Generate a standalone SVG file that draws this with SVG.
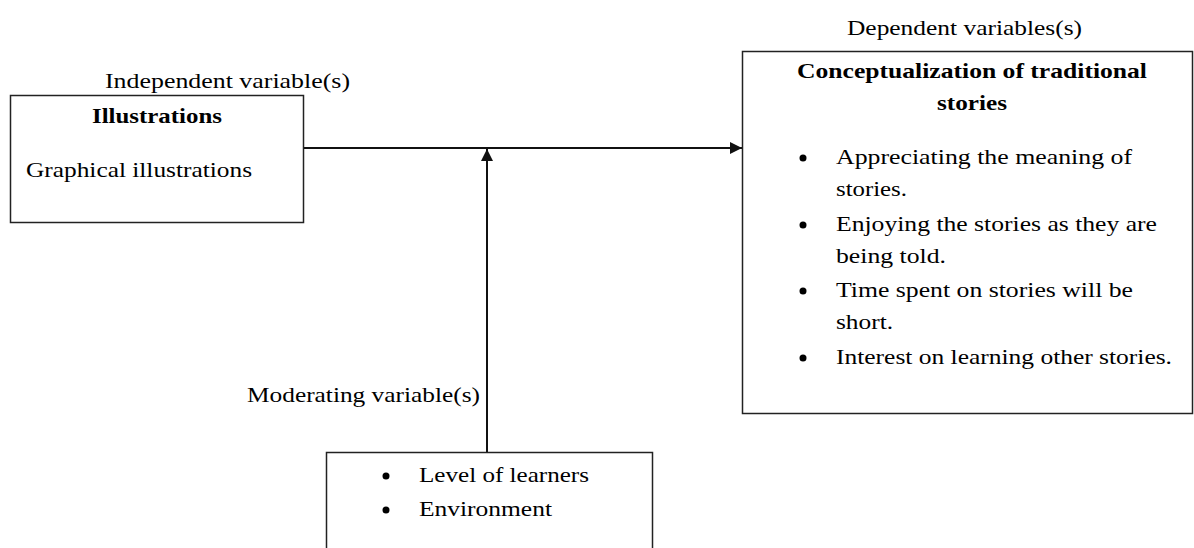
<svg xmlns="http://www.w3.org/2000/svg" width="1194" height="548" viewBox="0 0 1194 548">
<style>
text{font-family:"Liberation Serif","Times New Roman",serif;font-size:22px;fill:#000}
.b{font-weight:bold}
.box{fill:#fff;stroke:#222;stroke-width:1.5}
.ln{stroke:#111;stroke-width:2;fill:none}
</style>
<defs>
<marker id="ah2" viewBox="0 0 10 10" refX="10" refY="5" markerWidth="12" markerHeight="12" orient="auto" markerUnits="userSpaceOnUse">
<path d="M0,0 L10,5 L0,10 z" fill="#111"/>
</marker>
</defs>
<rect width="1194" height="548" fill="#fff"/>
<g id="connectors">
<line class="ln" x1="303" y1="148" x2="742" y2="148" marker-end="url(#ah2)"/>
<line class="ln" x1="487" y1="452" x2="487" y2="149" marker-end="url(#ah2)"/>
</g>
<g id="independent">
<text x="105" y="88" textLength="245" lengthAdjust="spacingAndGlyphs">Independent variable(s)</text>
<rect class="box" x="10.5" y="95.5" width="293" height="127"/>
<text class="b" x="92" y="123" textLength="130" lengthAdjust="spacingAndGlyphs">Illustrations</text>
<text x="26" y="177" textLength="226" lengthAdjust="spacingAndGlyphs">Graphical illustrations</text>
</g>
<g id="dependent">
<text x="847" y="35" textLength="235" lengthAdjust="spacingAndGlyphs">Dependent variables(s)</text>
<rect class="box" x="742.5" y="51.5" width="450" height="362"/>
<text class="b" x="797" y="78" textLength="350" lengthAdjust="spacingAndGlyphs">Conceptualization of traditional</text>
<text class="b" x="937" y="110" textLength="70" lengthAdjust="spacingAndGlyphs">stories</text>
<g>
<circle cx="803" cy="158" r="3.5"/>
<text x="836" y="164" textLength="296" lengthAdjust="spacingAndGlyphs">Appreciating the meaning of</text>
<text x="836" y="196" textLength="71" lengthAdjust="spacingAndGlyphs">stories.</text>
<circle cx="803" cy="225" r="3.5"/>
<text x="836" y="231" textLength="321" lengthAdjust="spacingAndGlyphs">Enjoying the stories as they are</text>
<text x="836" y="263" textLength="110" lengthAdjust="spacingAndGlyphs">being told.</text>
<circle cx="803" cy="291" r="3.5"/>
<text x="836" y="297" textLength="297" lengthAdjust="spacingAndGlyphs">Time spent on stories will be</text>
<text x="836" y="329" textLength="57" lengthAdjust="spacingAndGlyphs">short.</text>
<circle cx="803" cy="358" r="3.5"/>
<text x="836" y="364" textLength="336" lengthAdjust="spacingAndGlyphs">Interest on learning other stories.</text>
</g>
</g>
<g id="moderating">
<text x="247" y="402" textLength="233" lengthAdjust="spacingAndGlyphs">Moderating variable(s)</text>
<rect class="box" x="326.5" y="452.5" width="326" height="120"/>
<circle cx="386" cy="476" r="3.5"/>
<text x="419" y="482" textLength="170" lengthAdjust="spacingAndGlyphs">Level of learners</text>
<circle cx="386" cy="510" r="3.5"/>
<text x="419" y="516" textLength="133" lengthAdjust="spacingAndGlyphs">Environment</text>
</g>
</svg>
